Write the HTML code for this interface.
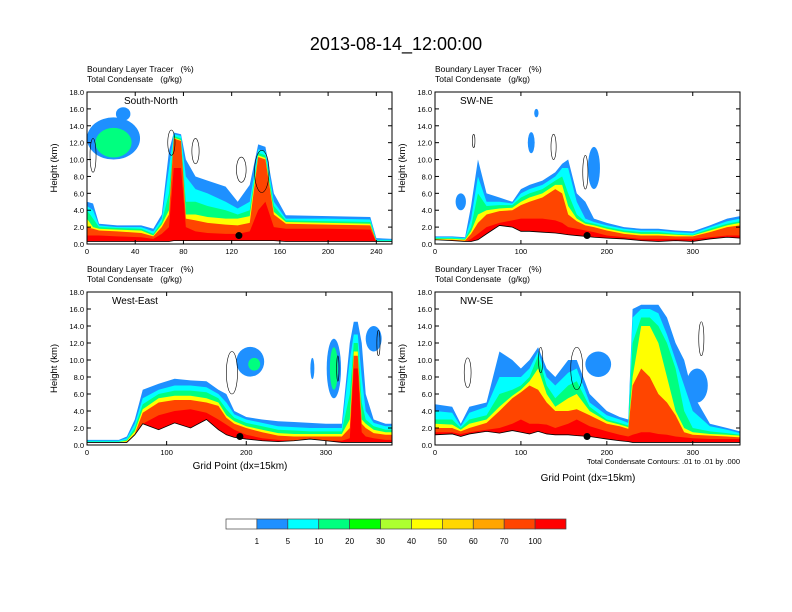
<!DOCTYPE html>
<html><head><meta charset="utf-8"><style>
body{margin:0;background:#fff;}
svg{display:block;font-family:"Liberation Sans",sans-serif;}
text{white-space:pre;}
</style></head><body>
<svg id="fig" width="792" height="612" viewBox="0 0 792 612">
<rect width="792" height="612" fill="#fff"/>
<text x="396" y="50" font-size="18" text-anchor="middle">2013-08-14_12:00:00</text>
</svg>
<script>
const levelColors=["#ffffff","#1e90ff","#00ffff","#00ff7f","#00ff00","#adff2f","#ffff00","#ffd700","#ffa500","#ff4500","#ff0000"];
const levelLabels=["1","5","10","20","30","40","50","60","70","100"];
const bandOrder=["blue","cyan","green","yellow","orangered","red"];
const bandColor={blue:"#1e90ff",cyan:"#00ffff",green:"#00ff7f",yellow:"#ffff00",orangered:"#ff4500",red:"#ff0000"};
const yTicks=[0,2,4,6,8,10,12,14,16,18];

const p1X=[0,5,10,25,45,55,62,68,72,78,82,90,100,115,125,135,142,148,155,165,200,235,240,253];
const p1Blue=[5,4.8,2.4,2.2,2.2,1.8,3.5,11,13.2,13,10,8,7.5,6.8,5,7,11.8,11.5,6,3.4,3.3,3.2,0.7,0.6];
const p1Cyan=[4.5,4,2.2,2,2,1.5,3,9,13,12.8,8,6.5,6,5,4.2,5,11.2,11,5,3,3,2.9,0.5,0.5];
const p1Green=[4,3,2,1.9,1.8,1.2,2.6,6,12.8,12.5,5,5,4.5,4,3.5,4,10.8,10.5,4.5,2.8,2.7,2.6,0.4,0.4];
const p1Yellow=[3,2,1.8,1.7,1.6,1,2.3,4,12.6,12.3,3.5,3.5,3.2,3,3,3.3,10.5,10.2,3.8,2.6,2.5,2.4,0.3,0.3];
const p1Orangered=[2,1.8,1.6,1.5,1.3,0.9,2,3.5,12.5,12.2,3,2.8,2.5,2.3,2.2,2.5,10.3,10,3.5,2.4,2.3,2.2,0.3,0.3];
const p1Red=[1,1,1,0.9,0.8,0.6,1.2,2,9,9,2,1.5,1.3,1.2,1.2,1.5,4,5,2,1.8,1.8,1.7,0.2,0.2];
const p1Terrain=[0.3,0.3,0.3,0.3,0.3,0.3,0.3,0.3,0.4,0.4,0.4,0.4,0.4,0.4,0.4,0.4,0.4,0.4,0.4,0.3,0.3,0.3,0.3,0.3];
const p1Blobs=[[22,12.5,44,5,"blue"],[22,12,30,3.5,"green"],[30,15.4,12,1.6,"blue"],[70,12,6,3,"contour"],[90,11,6,3,"contour"],[128,8.8,8,3,"contour"],[145,8.6,12,5,"contour"],[5,10.5,5,4,"contour"]];

const p2X=[0,20,35,42,50,60,75,90,100,110,125,140,148,155,165,175,185,200,220,240,260,280,300,320,340,355];
const p2Blue=[0.9,0.9,0.8,4.5,10,6,5.5,5,6.5,7,7.5,8.5,9.5,10,6,5,3,2.5,2,1.8,1.8,1.6,1.5,2.2,3,3.3];
const p2Cyan=[0.8,0.8,0.7,3,8,5,5,4.8,6,6.5,7,8,9,9,5,3,2.6,2.2,1.8,1.6,1.6,1.4,1.3,2,2.7,3];
const p2Green=[0.7,0.7,0.6,2,6,4.5,4.6,4.6,5.5,6,6.5,7.5,8,6,3.5,2.6,2.4,2,1.6,1.4,1.4,1.2,1.1,1.8,2.4,2.7];
const p2Yellow=[0.6,0.6,0.5,1.5,3.5,4,4.2,4.3,5,5.5,6,7,7,4.5,3,2.4,2.2,1.8,1.4,1.2,1.2,1.1,1,1.6,2.2,2.5];
const p2Orangered=[0.5,0.5,0.4,1.2,2.5,3.5,3.9,4,4.6,5,5.5,6.5,6,3.5,2.7,2.2,2,1.6,1.2,1,1,0.9,0.9,1.4,2,2.2];
const p2Red=[0.3,0.3,0.2,0.6,1.2,2,2.5,2.8,3,3,3,2.8,2.5,2,1.8,1.6,1.4,1,0.8,0.6,0.6,0.6,0.6,0.8,1,1];
const p2Terrain=[0.5,0.4,0.3,0.3,0.5,1.2,2.2,2,1.5,1.5,1.4,1.3,1.2,1.1,1,0.9,0.8,0.7,0.6,0.4,0.3,0.4,0.3,0.6,0.8,0.7];
const p2Blobs=[[112,12,8,2.5,"blue"],[118,15.5,5,1,"blue"],[30,5,12,2,"blue"],[185,9,14,5,"blue"],[45,12.2,3,1.6,"contour"],[138,11.5,6,3,"contour"],[175,8.5,6,4,"contour"]];

const p3X=[0,20,40,50,60,70,90,110,130,150,165,175,185,200,220,240,260,280,300,320,330,335,340,345,350,360,375,383];
const p3Blue=[0.6,0.6,0.6,1,3,6.5,7.2,7.8,7.6,7.5,6.5,6,4,3.3,3,2.8,2.7,2.6,2.5,2.5,12,14.5,14.5,12,6,3,2.5,2.5];
const p3Cyan=[0.5,0.5,0.5,0.8,2.5,5.5,6.5,7,7,6.8,6,5,3.6,3,2.6,2.2,2.1,2,2,2,10,13,13,8,4,2.6,2.2,2.2];
const p3Green=[0.4,0.4,0.4,0.6,2,4.8,6,6.4,6.4,6.2,5.5,4.2,3.2,2.6,2.2,1.8,1.7,1.6,1.6,1.6,6,12,12,5,3,2.2,1.8,1.8];
const p3Yellow=[0.35,0.35,0.35,0.5,1.6,4.2,5.5,5.8,5.8,5.5,5,3.5,2.8,2.2,1.8,1.4,1.3,1.3,1.3,1.3,3,11,11,3,2.5,1.8,1.5,1.5];
const p3Orangered=[0.3,0.3,0.3,0.4,1.3,3.8,5,5.3,5.3,5,4.6,3.2,2.5,2,1.5,1.1,1,1,1,1,2,10.5,10.5,2.5,2,1.4,1.2,1.2];
const p3Red=[0.2,0.2,0.2,0.3,0.8,2.5,3.5,4,4.2,3.8,3,2.4,1.8,1.2,0.8,0.6,0.5,0.5,0.5,0.5,0.8,9,9,1.5,1,0.8,0.6,0.6];
const p3Terrain=[0.3,0.3,0.3,0.3,1.2,2.5,1.8,2.6,2,3,1.8,1.2,0.9,0.7,0.5,0.4,0.5,0.7,0.5,0.3,0.3,0.3,0.3,0.3,0.3,0.3,0.3,0.3];
const p3Blobs=[[205,9.8,35,3.5,"blue"],[210,9.5,15,1.5,"green"],[283,9,5,2.5,"blue"],[310,9,18,7,"blue"],[310,9,10,5,"green"],[360,12.5,20,3,"blue"],[182,8.5,14,5,"contour"],[366,12,4,3,"contour"],[315,9,3,3,"contour"]];

const p4X=[0,20,30,40,60,75,90,100,110,120,130,140,155,165,180,200,215,225,230,240,250,260,270,280,290,300,320,340,355];
const p4Blue=[4.8,4.5,2.5,4.5,5,11,10,9,10,11.5,9,8,10,10,6,4,3.3,3,16,16.5,16.5,16.5,15,12,10,6,2.5,2,1.6];
const p4Cyan=[4,3.8,2.2,3.8,4.5,8,8,8,9,11,8,7,8.5,9,5,3.5,3,2.6,15,16,16,15.5,13,10,7,4,2.2,1.8,1.4];
const p4Green=[3,3,2,3,3.5,6,6.5,7,8,10.5,7,5.5,7,7.5,4.5,3,2.6,2.3,12,15,15,14,12,9,4,2,1.6,1.4,1.2];
const p4Yellow=[2.5,2.4,1.8,2.5,3,4.5,5.8,6.5,7.5,9,6,4.5,5.5,6,4,2.8,2.4,2.1,8,14,14,12,8,4,2,1.5,1.3,1.2,1.1];
const p4Orangered=[2,2,1.6,2,2.6,4,5.5,6.2,7,6.5,5,4,4,4.2,3.5,2.5,2.2,1.9,7,9,8,6,5,3.5,1.5,1.2,1.1,1,0.9];
const p4Red=[1.5,1.5,1.3,1.5,1.8,2,2.5,3,2.5,2.5,2.4,2,2.5,3,2.2,1.6,1.2,1,1.2,1.5,1.5,1.3,1.2,1,0.9,0.8,0.7,0.7,0.7];
const p4Terrain=[1.2,1.3,1,1.3,1.6,1.4,1.7,1.5,1.3,1.6,1.3,1.2,1.2,1.1,1,0.7,0.5,0.4,0.3,0.3,0.3,0.3,0.3,0.3,0.3,0.3,0.3,0.3,0.3];
const p4Blobs=[[190,9.5,30,3,"blue"],[305,7,25,4,"blue"],[38,8.5,8,3.5,"contour"],[310,12.5,6,4,"contour"],[165,9,14,5,"contour"],[123,10,5,3,"contour"]];

const panels=[
 {name:"south-north",label:"South-North",x0:87,y0:92,w:305,h:152,xmax:253,xt:[0,40,80,120,160,200,240],dot:126,X:p1X,B:[p1Blue,p1Cyan,p1Green,p1Yellow,p1Orangered,p1Red],T:p1Terrain,blobs:p1Blobs},
 {name:"sw-ne",label:"SW-NE",x0:435,y0:92,w:305,h:152,xmax:355,xt:[0,100,200,300],dot:177,X:p2X,B:[p2Blue,p2Cyan,p2Green,p2Yellow,p2Orangered,p2Red],T:p2Terrain,blobs:p2Blobs},
 {name:"west-east",label:"West-East",x0:87,y0:292,w:305,h:153,xmax:383,xt:[0,100,200,300],dot:192,X:p3X,B:[p3Blue,p3Cyan,p3Green,p3Yellow,p3Orangered,p3Red],T:p3Terrain,blobs:p3Blobs},
 {name:"nw-se",label:"NW-SE",x0:435,y0:292,w:305,h:153,xmax:355,xt:[0,100,200,300],dot:177,X:p4X,B:[p4Blue,p4Cyan,p4Green,p4Yellow,p4Orangered,p4Red],T:p4Terrain,blobs:p4Blobs}
];
const NS="http://www.w3.org/2000/svg";
const svg=document.getElementById("fig");
function mk(tag,attrs,parent){const e=document.createElementNS(NS,tag);for(const k in attrs)e.setAttribute(k,attrs[k]);(parent||svg).appendChild(e);return e;}

panels.forEach((p,pi)=>{
 const g=mk("g",{});
 
 
 const sx=v=>p.x0+v/p.xmax*p.w;
 const sy=v=>p.y0+p.h-v/18*p.h;
 const cid="clip"+pi;
 const cp=mk("clipPath",{id:cid},g);
 mk("rect",{x:p.x0,y:p.y0,width:p.w,height:p.h},cp);
 const plot=mk("g",{"clip-path":"url(#"+cid+")"},g);
 
 
 p.blobs.forEach(b=>{
  if(b[4]==="contour")return;
  const e=mk("ellipse",{cx:sx(b[0]),cy:sy(b[1]),rx:b[2]/p.xmax*p.w/2,ry:b[3]/18*p.h/2,fill:bandColor[b[4]]},plot);
  
  
 });
 p.B.forEach((arr,bi)=>{
  let pts=p.X.map((x,i)=>sx(x)+","+sy(arr[i]));
  pts.push(sx(p.X[p.X.length-1])+","+sy(0));pts.push(sx(0)+","+sy(0));
  const poly=mk("polygon",{points:pts.join(" "),fill:bandColor[bandOrder[bi]]},plot);
  
  
 });
 let tp=p.X.map((x,i)=>sx(x)+","+sy(p.T[i]));
 tp.push(sx(p.X[p.X.length-1])+","+sy(0));tp.push(sx(0)+","+sy(0));
 const ter=mk("polygon",{points:tp.join(" "),fill:"#fff",stroke:"#000","stroke-width":0.8},plot);
 
 
 p.blobs.forEach(b=>{
  if(b[4]!=="contour")return;
  const e=mk("ellipse",{cx:sx(b[0]),cy:sy(b[1]),rx:b[2]/p.xmax*p.w/2,ry:b[3]/18*p.h/2,fill:"none",stroke:"#000","stroke-width":0.6},plot);
  
  
 });
 const dot=mk("circle",{cx:sx(p.dot),cy:sy(1),r:3.5,fill:"#000"},g);
 
 
 const fr=mk("rect",{x:p.x0,y:p.y0,width:p.w,height:p.h,fill:"none",stroke:"#000","stroke-width":1},g);
 
 
 yTicks.forEach(t=>{
  mk("line",{x1:p.x0,x2:p.x0+4,y1:sy(t),y2:sy(t),stroke:"#000"},g);
  mk("line",{x1:p.x0+p.w,x2:p.x0+p.w-4,y1:sy(t),y2:sy(t),stroke:"#000"},g);
  const tx=mk("text",{x:p.x0-3,y:sy(t)+3,"font-size":7.5,"text-anchor":"end"},g);
  tx.textContent=t.toFixed(1);
  
  
 });
 p.xt.forEach(t=>{
  mk("line",{x1:sx(t),x2:sx(t),y1:p.y0+p.h,y2:p.y0+p.h-4,stroke:"#000"},g);
  mk("line",{x1:sx(t),x2:sx(t),y1:p.y0,y2:p.y0+4,stroke:"#000"},g);
  const tx=mk("text",{x:sx(t),y:p.y0+p.h+10,"font-size":7.5,"text-anchor":"middle"},g);
  tx.textContent=t;
  
  
 });
 const lab=mk("text",{x:p.x0+(pi==0?37:25),y:p.y0+12,"font-size":10},g);
 lab.textContent=p.label;
 
 
 const t1=mk("text",{x:p.x0,y:p.y0-20,"font-size":8.5},g);
 t1.textContent="Boundary Layer Tracer   (%)";
 
 
 const t2=mk("text",{x:p.x0,y:p.y0-10,"font-size":8.5},g);
 t2.textContent="Total Condensate   (g/kg)";
 
 
 const yl=mk("text",{x:0,y:0,"font-size":9.5,"text-anchor":"middle",transform:"translate("+(p.x0-30)+","+(p.y0+p.h/2)+") rotate(-90)"},g);
 yl.textContent="Height (km)";
 
 
});
[[240,469],[588,481]].forEach(c=>{
 const t=mk("text",{x:c[0],y:c[1],"font-size":10,"text-anchor":"middle"});
 t.textContent="Grid Point (dx=15km)";
 
 
});
const info=mk("text",{x:740,y:464,"font-size":7.5,"text-anchor":"end"});
info.textContent="Total Condensate Contours: .01 to .01 by .000";


const cb=mk("g",{});


const cbX=226,cbW=340/11;
levelColors.forEach((c,i)=>{
 const r=mk("rect",{x:cbX+i*cbW,y:519,width:cbW,height:10,fill:c,stroke:"#444","stroke-width":0.7},cb);
 
 
});
levelLabels.forEach((l,i)=>{
 const t=mk("text",{x:cbX+(i+1)*cbW,y:544,"font-size":8,"text-anchor":"middle"},cb);
 t.textContent=l;
 
 
});
</script>
</body></html>
